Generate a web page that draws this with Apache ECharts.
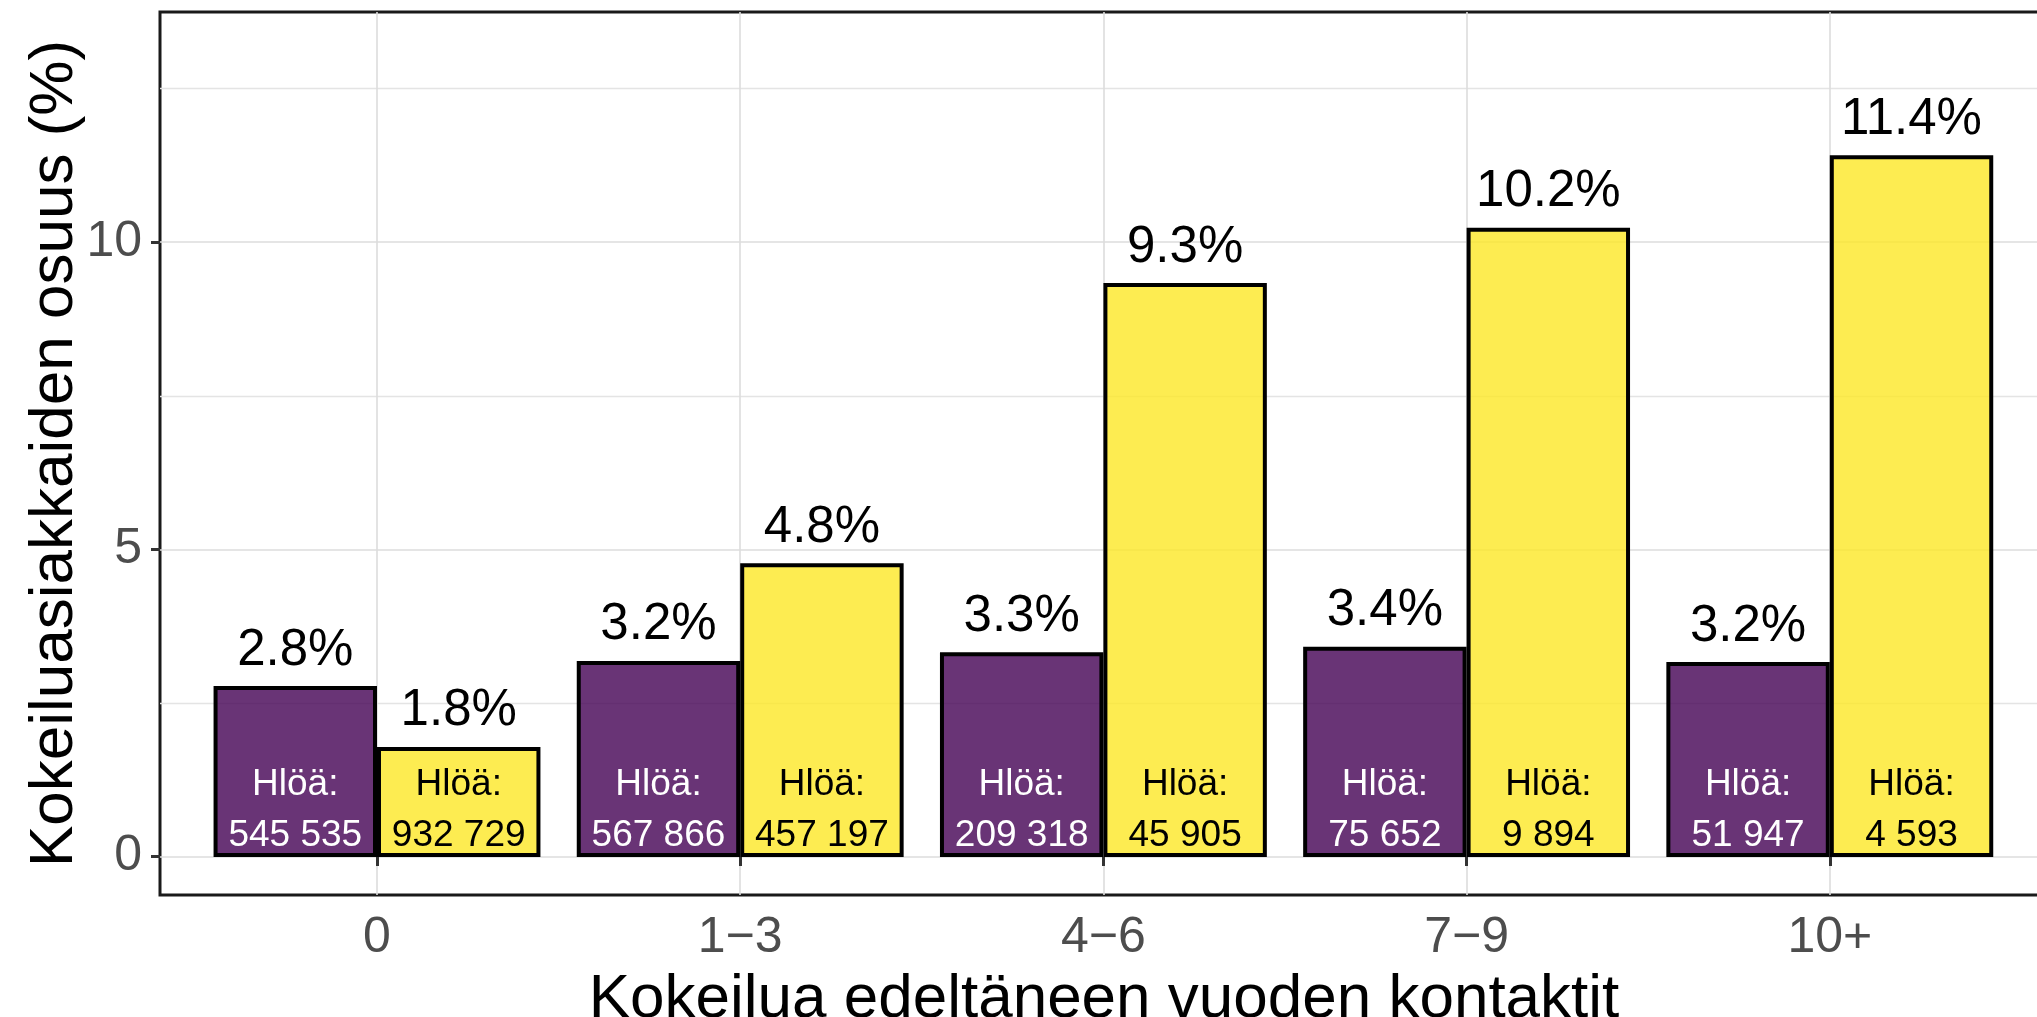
<!DOCTYPE html>
<html>
<head>
<meta charset="utf-8">
<script src="https://cdn.jsdelivr.net/npm/echarts@6/dist/echarts.min.js"></script>
<style>
html, body { margin: 0; padding: 0; background: #fff; }
#chart { width: 2037px; height: 1017px; }
</style>
</head>
<body>
<div id="chart"></div>
<script>
// kontaktit kokeilua edeltäneenä vuonna
var categories = ['0', '1\u22123', '4\u22126', '7\u22129', '10+'];

// kokeiluasiakkaiden osuus (%), violetti ja keltainen ryhmä
var shareA = [2.78, 3.19, 3.33, 3.42, 3.17];
var shareB = [1.79, 4.78, 9.34, 10.24, 11.42];

// henkilömäärät palkkien sisällä
var personsA = [545535, 567866, 209318, 75652, 51947];
var personsB = [932729, 457197, 45905, 9894, 4593];

var FONT = "'Liberation Sans', Arial, sans-serif";
var PURPLE = 'rgba(68,1,84,0.8)';
var YELLOW = 'rgba(253,231,37,0.8)';
var GRID_MAJOR = '#dcdcdc';
var GRID_MINOR = '#e4e4e4';

function fmtNum(n) {
    return String(n).replace(/\B(?=(\d{3})+(?!\d))/g, ' ');
}

var hidden = {
    axisLine: { show: false },
    axisTick: { show: false },
    axisLabel: { show: false },
    splitLine: { show: false }
};

function barSeries(name, axis, data, color) {
    return {
        type: 'bar',
        name: name,
        xAxisIndex: axis,
        yAxisIndex: 1,
        data: data,
        barGap: '0%',
        barCategoryGap: '10%',
        emphasis: { disabled: true },
        itemStyle: { color: color }
    };
}

var pctLabel = {
    show: true, position: 'top', distance: 10,
    fontSize: 51, lineHeight: 51, color: '#000', fontFamily: FONT,
    formatter: function (p) { return p.value.toFixed(1) + '%'; }
};

var purple = barSeries('violetti', 1, shareA, PURPLE);
purple.itemStyle.borderColor = '#000';
purple.itemStyle.borderWidth = 4;
purple.label = pctLabel;

var yellow = barSeries('keltainen', 1, shareB, YELLOW);
yellow.itemStyle.borderColor = '#000';
yellow.itemStyle.borderWidth = 4;
yellow.label = pctLabel;

// toinen kerros pelkkiä henkilömäärätekstejä varten
var purpleN = barSeries('violetti hlöä', 2, shareA, 'rgba(0,0,0,0)');
purpleN.label = {
    show: true, position: 'insideBottom', distance: -4,
    fontSize: 37, lineHeight: 51, color: '#fff', fontFamily: FONT,
    formatter: function (p) { return 'Hlöä:\n' + fmtNum(personsA[p.dataIndex]); }
};
var yellowN = barSeries('keltainen hlöä', 2, shareB, 'rgba(0,0,0,0)');
yellowN.label = {
    show: true, position: 'insideBottom', distance: -4,
    fontSize: 37, lineHeight: 51, color: '#000', fontFamily: FONT,
    formatter: function (p) { return 'Hlöä:\n' + fmtNum(personsB[p.dataIndex]); }
};

var option = {
    animation: false,
    backgroundColor: '#fff',
    textStyle: { fontFamily: FONT },
    grid: [
        // paneelin kehys
        { left: 160, top: 12, right: -11, bottom: 122, show: true, borderColor: '#1a1a1a', borderWidth: 3,
          backgroundColor: 'rgba(0,0,0,0)', containLabel: false, outerBoundsMode: 'none' },
        // palkit
        { left: 195.4, width: 1816, top: 12, bottom: 122, containLabel: false, outerBoundsMode: 'none' },
        // y-akselin asteikko ja vaakaviivat
        { left: 160, right: -11, top: -65, bottom: 160.3, containLabel: false, outerBoundsMode: 'none' }
    ],
    xAxis: [
        Object.assign({
            gridIndex: 0, type: 'value', min: 0, max: 1,
            name: 'Kokeilua edeltäneen vuoden kontaktit',
            nameLocation: 'middle', nameGap: 74,
            nameTextStyle: { fontSize: 62, color: '#000', fontFamily: FONT }
        }, hidden),
        {
            gridIndex: 1, type: 'category', data: categories,
            axisLine: { show: false },
            axisTick: { show: true, alignWithLabel: true, length: 9, lineStyle: { color: '#333', width: 3 } },
            axisLabel: { margin: 18, fontSize: 50, color: '#4d4d4d', fontFamily: FONT, interval: 0 },
            splitLine: { show: true, alignWithLabel: true, lineStyle: { color: GRID_MAJOR, width: 1.6 } }
        },
        { gridIndex: 1, type: 'category', data: categories, show: false },
        { gridIndex: 2, type: 'value', min: 0, max: 1, show: false }
    ],
    yAxis: [
        Object.assign({
            gridIndex: 0, type: 'value', min: 0, max: 1,
            name: 'Kokeiluasiakkaiden osuus (%)',
            nameLocation: 'middle', nameGap: 74, nameRotate: 90,
            nameTextStyle: { fontSize: 62, color: '#000', fontFamily: FONT }
        }, hidden),
        { gridIndex: 1, type: 'value', min: -0.62, max: 13.75, show: false },
        {
            gridIndex: 2, type: 'value', min: 0, max: 15, interval: 5,
            axisLine: { show: false },
            axisTick: { show: true, length: 9, lineStyle: { color: '#333', width: 3 } },
            axisLabel: { margin: 18, fontSize: 50, color: '#4d4d4d', fontFamily: FONT, showMaxLabel: false },
            splitLine: { show: true, lineStyle: { color: GRID_MAJOR, width: 1.6 } },
            minorTick: { show: false, splitNumber: 2 },
            minorSplitLine: { show: true, lineStyle: { color: GRID_MINOR, width: 1.3 } }
        }
    ],
    series: [purple, yellow, purpleN, yellowN]
};

var chart = echarts.init(document.getElementById('chart'), null, { renderer: 'canvas' });
chart.setOption(option);
</script>
</body>
</html>
